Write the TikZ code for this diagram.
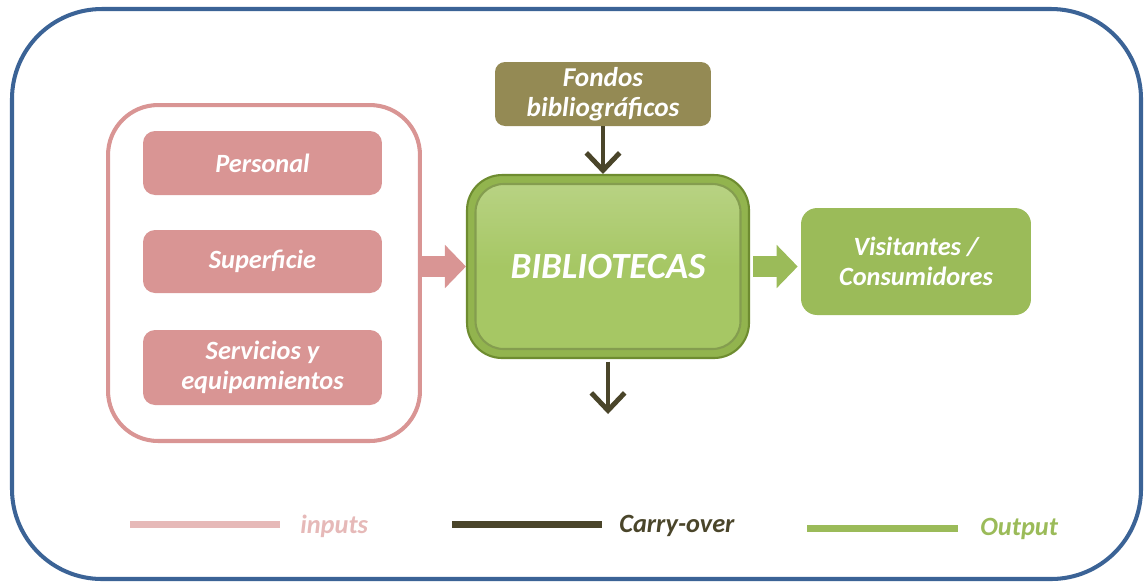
\documentclass[tikz,border=0pt]{standalone}
\usepackage{fontspec}
\setmainfont{Carlito}
\usetikzlibrary{arrows.meta}
\definecolor{frameblue}{HTML}{3B6396}
\definecolor{inpink}{HTML}{D99594}
\definecolor{legpink}{HTML}{E6B9B8}
\definecolor{libgreen}{HTML}{A6C764}
\definecolor{libdark}{HTML}{6E8C30}
\definecolor{libmid}{HTML}{92B44E}
\definecolor{outgreen}{HTML}{9BBB59}
\definecolor{fondo}{HTML}{948A54}
\definecolor{carry}{HTML}{4A452A}
\tikzset{
  boxtext/.style={text=white, font=\fontsize{15}{17}\selectfont\bfseries\itshape, align=center},
  inbox/.style={boxtext, fill=inpink, rounded corners=0.24cm, minimum width=4.78cm, inner sep=0pt},
  blockarrow/.style={line width=12.5pt, -{Triangle[length=12pt,width=24pt]}},
  carryarrow/.style={draw=carry, line width=2.8pt, -{Straight Barb[length=10pt,width=19pt]}},
  legline/.style={line width=4pt},
  legtext/.style={font=\fontsize{15}{17}\selectfont\bfseries\itshape, anchor=west, inner sep=0pt}
}
\begin{document}
\begin{tikzpicture}[x=0.02cm,y=-0.02cm]
\useasboundingbox (0,0) rectangle (1145,583);
% outer frame
\draw[frameblue, line width=2.3pt, rounded corners=1.8cm] (12,9) rectangle (1141,579);
% input container
\node (inp) at (264,273) [draw=inpink, line width=2.3pt, rounded corners=1cm, minimum width=6.24cm, minimum height=6.72cm] {};
\node (pers) at (262.5,163) [inbox, minimum height=1.28cm] {Personal};
\node (sup) at (262.5,261.5) [inbox, minimum height=1.26cm] {Superficie};
\node (serv) at (262.5,367.5) [inbox, minimum height=1.5cm] {Servicios y\\equipamientos};
% library box
\node (libout) at (608,266.5) [fill=libmid, draw=libdark, line width=1.2pt, rounded corners=0.7cm, minimum width=5.64cm, minimum height=3.66cm] {};
\node (lib) at (608,266.5) [boxtext, font=\fontsize{21}{23}\selectfont\bfseries\itshape, draw=libdark!85, line width=1.2pt, rounded corners=0.56cm, minimum width=5.3cm, minimum height=3.3cm, top color=libgreen!80!white, bottom color=libgreen, middle color=libgreen, shading angle=0] {BIBLIOTECAS};
% fondos
\node (fond) at (603,94) [boxtext, font=\fontsize{15.5}{17}\selectfont\bfseries\itshape, fill=fondo, rounded corners=0.2cm, minimum width=4.32cm, minimum height=1.28cm, inner sep=0pt] {Fondos\\bibliográficos};
% output
\node (vis) at (916,261.5) [boxtext, fill=outgreen, rounded corners=0.32cm, minimum width=4.6cm, minimum height=2.14cm, inner sep=0pt] {Visitantes /\\Consumidores};
% arrows
\draw[blockarrow, inpink] (inp.east |- libout.west) -- (libout.west);
\draw[blockarrow, outgreen, shorten <=1.7pt, shorten >=1.7pt] (libout.east) -- (vis.west |- libout.east);
\draw[carryarrow] (fond.south) -- (fond.south |- libout.north);
\coordinate (libbot) at (608,358);
\coordinate (cend) at (608,414);
\draw[carryarrow, shorten <=2pt] (libbot) -- (cend);
% legend
\coordinate (l1a) at (130,524); \coordinate (l1b) at (280,524);
\coordinate (l2a) at (452,524); \coordinate (l2b) at (602,524);
\coordinate (l3a) at (807,528); \coordinate (l3b) at (958,528);
\draw[legline, legpink] (l1a) -- (l1b);
\draw[legline, carry] (l2a) -- (l2b);
\draw[legline, outgreen] (l3a) -- (l3b);
\node (t1) at (300,526) [legtext, text=legpink] {inputs};
\node (t2) at (619,526) [legtext, text=carry] {Carry-over};
\node (t3) at (980,529) [legtext, text=outgreen] {Output};
\end{tikzpicture}
\end{document}
